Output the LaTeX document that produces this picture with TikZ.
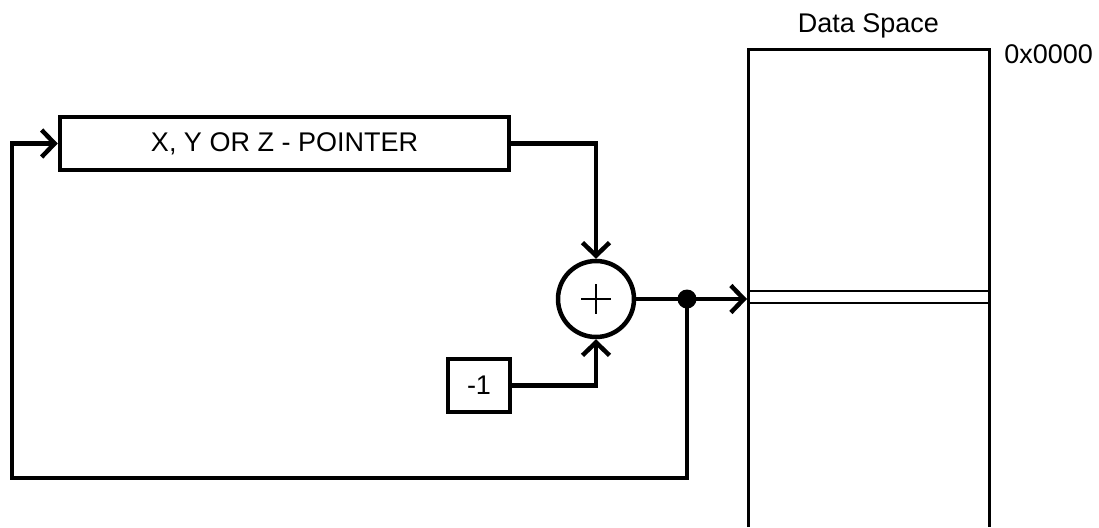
\documentclass[tikz,border=0pt]{standalone}
\usepackage{fontspec}
\setmainfont{Liberation Sans}
\usetikzlibrary{arrows.meta,positioning}
\tikzset{
  every node/.style={font=\fontsize{13.5pt}{16pt}\selectfont},
  blk/.style={draw,line width=2.25pt,minimum height=26.5pt,inner sep=0pt},
  wire/.style={line width=2.25pt},
  arr/.style={wire,-{Straight Barb[length=6.5pt,width=13.5pt]}},
}
\begin{document}
\begin{tikzpicture}[x=0.5pt,y=-0.5pt]
    \useasboundingbox (0,0) rectangle (1099,527);

    % Blocks
    \node[blk,minimum width=224.5pt] (ptr) at (284.5,143.5) {X, Y OR Z - POINTER};
    \node[draw,circle,line width=2.25pt,minimum size=38pt,inner sep=0pt] (sum) at (596,299) {};
    \node[blk,minimum width=31pt] (dec) at (479,385.5) {-1};

    % Plus sign
    \draw[line width=1pt] (sum.center) ++(-15,0) -- ++(30,0);
    \draw[line width=1pt] (sum.center) ++(0,-15) -- ++(0,30);

    % Data space
    \draw[line width=1.5pt] (748,527) |- (989,49) -- (989,527);
    \draw[line width=1pt] (748,291) -- (989,291);
    \draw[line width=1pt] (748,303) -- (989,303);
    \node[anchor=base] (dslabel) at (868.5,32) {Data Space};
    \node[anchor=base west,inner sep=0pt] (addr) at (1004,63) {0x0000};

    % Connections
    \coordinate (tap) at (687,299);
    \coordinate (memin) at (747,299);
    \coordinate (loop) at (12,478);
    \draw[arr] (ptr.east) -| (sum.north);
    \draw[arr] (dec.east) -| (sum.south);
    \draw[arr] (sum.east) -- (memin);
    \draw[arr] (tap) |- (loop) |- (ptr.west);
    \fill (tap) circle (4.75pt);
\end{tikzpicture}
\end{document}
